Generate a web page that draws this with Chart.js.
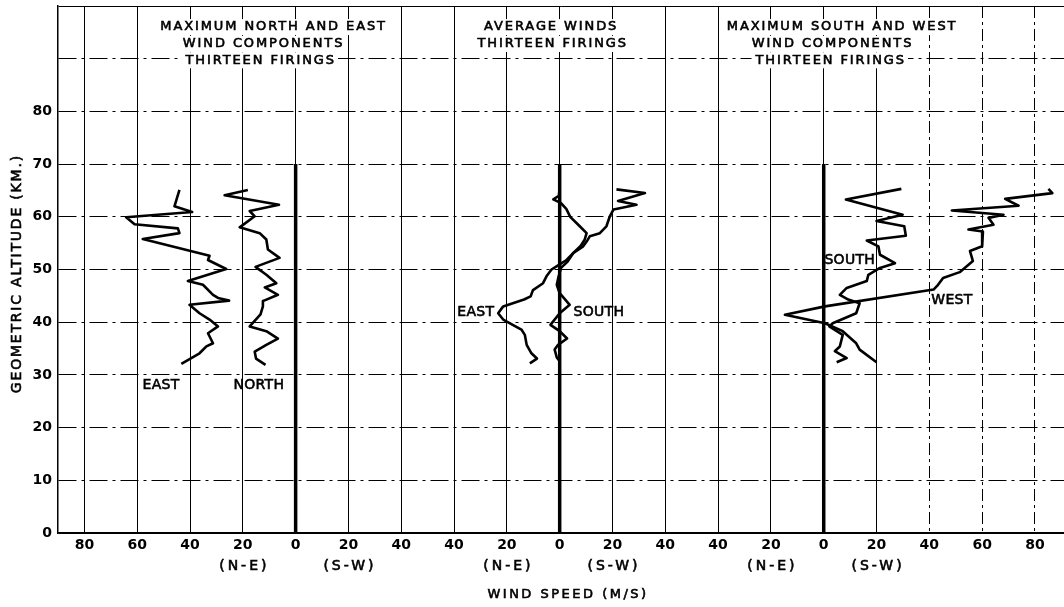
<!DOCTYPE html>
<html><head><meta charset="utf-8">
<script src="https://cdn.jsdelivr.net/npm/chart.js@4/dist/chart.umd.min.js"></script>
<style>html,body{margin:0;padding:0;background:#fff}#wrap{width:1064px;height:607px;position:relative}</style>
</head><body><div id="wrap"><canvas id="c" width="1064" height="607"></canvas></div>
<script>
// ---- DATA (altitude km, wind component m/s; negative = N-E side, positive = S-W side) ----
const maxEastAlt   = [65.1, 62.0, 60.9, 59.9, 58.6, 57.8, 56.9, 55.8, 52.6, 51.8, 50.1, 47.8, 47.1, 45.2, 44.6, 44.1, 43.3, 41.7, 40.5, 39.2, 37.9, 36.0, 35.4, 34.1, 32.1];
const maxEastSpeed = [-44, -45.9, -39.2, -64.2, -61, -44.6, -44, -57.9, -32.6, -33.2, -26.3, -40.8, -35.1, -31.3, -29.4, -25.2, -40.2, -36.4, -32.6, -29.4, -33.2, -31.3, -33.8, -36.4, -43.3];

const maxNorthAlt   = [65.1, 64.1, 62.3, 61.1, 60.1, 58.0, 56.9, 55.7, 53.8, 52.2, 50.5, 49.0, 47.4, 46.6, 45.2, 44.0, 43.0, 41.5, 39.2, 38.3, 36.9, 35.7, 34.4, 33.1, 31.9];
const maxNorthSpeed = [-18.1, -26.9, -6.3, -17.4, -15.5, -21.2, -13.6, -11.1, -10.5, -6.1, -15.2, -11.1, -7.3, -11.7, -6.7, -12.4, -12.4, -13.3, -17.4, -11.1, -6.7, -11.1, -15.5, -15.0, -11.4];

const avgEastAlt   = [65.2, 64.5, 63.0, 62.3, 61.4, 60.1, 58.2, 56.9, 56.3, 55.3, 54.4, 53.1, 51.8, 50.6, 50.0, 48.7, 47.4, 46.1, 44.9, 44.3, 43.0, 41.7, 40.5, 38.6, 37.6, 35.7, 34.1, 33.1, 32.2];
const avgEastSpeed = [21.5, 32.3, 22.1, 29.1, 20.4, 19.0, 17.7, 15.2, 11.4, 10.2, 8.9, 5.1, 2.6, -1.2, -3.1, -5.0, -6.3, -10.1, -11.0, -13.5, -21.4, -23.3, -21.4, -14.5, -13.2, -12.5, -10.7, -8.6, -11.3];

const avgSouthAlt   = [65.5, 64.0, 63.3, 62.6, 61.5, 60.0, 58.2, 56.9, 55.7, 54.5, 53.1, 51.5, 50.3, 48.5, 47.1, 45.5, 43.3, 41.7, 39.5, 38.3, 36.9, 35.7, 34.8, 33.3, 32.6];
const avgSouthSpeed = [0, -0.3, -2.4, 0.5, 2.5, 4.0, 7.6, 10.2, 9.5, 8.0, 5.1, 3.0, 0.5, -0.5, -1.1, 0, 3.8, 0, -3.5, 0, 2.8, -0.6, -1.9, -1.1, 0];

const maxSouthAlt   = [65.3, 63.3, 60.4, 59.2, 58.2, 56.4, 55.5, 54.4, 52.8, 51.2, 50.3, 49.0, 47.8, 46.5, 45.2, 44.3, 43.6, 41.7, 39.8, 39.2, 37.6, 35.4, 34.5, 33.2, 32.4];
const maxSouthSpeed = [29.4, 8.4, 29.9, 20.0, 30.5, 31.1, 16.3, 20.7, 21.3, 27.0, 21.3, 16.9, 16.3, 8.7, 6.1, 9.3, 13.6, 12.3, 3.4, 2.1, 7.2, 6.1, 4.2, 8.7, 4.9];

const maxWestAlt   = [65.3, 64.5, 63.4, 62.1, 61.2, 60.4, 59.8, 58.5, 57.6, 57.2, 54.4, 53.5, 51.6, 49.5, 48.4, 47.1, 46.2, 43.0, 41.4, 39.8, 38.3, 36.0, 34.8, 32.4];
const maxWestSpeed = [85.1, 86.6, 68.7, 73.8, 48.5, 68.1, 62.4, 64.3, 54.8, 60.3, 60.0, 55.4, 56.5, 51.5, 45.2, 43.3, 41.6, 0.5, -14.7, 0.5, 7.2, 12.3, 13.6, 20.0];

const zeroLineAlt = [0, 70];

const xTickValues = [-80, -60, -40, -20, 0, 20, 40, 60, 80, 100, 120, 140, 160, 180, 200, 220, 240, 260, 280];
const xTickLabels = ['80', '60', '40', '20', '0', '20', '40', '40', '20', '0', '20', '40', '40', '20', '0', '20', '40', '60', '80'];
const yTickValues = [0, 10, 20, 30, 40, 50, 60, 70, 80, 90, 100];
const yTickLabels = ['0', '10', '20', '30', '40', '50', '60', '70', '80', '', ''];

const panelTitles = [
  ['MAXIMUM NORTH AND EAST', 'WIND COMPONENTS', 'THIRTEEN FIRINGS'],
  ['AVERAGE WINDS', 'THIRTEEN FIRINGS'],
  ['MAXIMUM SOUTH AND WEST', 'WIND COMPONENTS', 'THIRTEEN FIRINGS']
];
const curveLabels = ['EAST', 'NORTH', 'EAST', 'SOUTH', 'SOUTH', 'WEST'];
const sideLabels = ['(N-E)', '(S-W)'];
const xTitle = 'WIND SPEED (M/S)';
const yTitle = 'GEOMETRIC ALTITUDE (KM.)';

// ---- LAYOUT (not data) ----
const X_MIN = -90, X_MAX = 291;
const panelOffset = [0, 100, 200];
const titlePos = [
  [[-8.7, 96.0], [-12.5, 92.8], [-13.6, 89.7]],
  [[96.4, 96.0], [97.0, 92.8]],
  [[206.6, 96.0], [203.0, 92.8], [202.3, 89.7]]
];
const curveLabelPos = [[-51, 28.1], [-14, 28.1], [68.2, 41.8], [114.8, 41.8], [209.8, 51.8], [248.5, 44.2]];

function pts(alt, spd, off) { return alt.map((a, i) => ({x: spd[i] + off, y: a})); }

const FONT = '"DejaVu Sans", Verdana, sans-serif';
const curve = (data) => ({data, showLine: true, pointRadius: 0, borderColor: '#000', borderWidth: 2.6, tension: 0, fill: false, borderJoinStyle: 'round'});
const zero = (off) => ({data: zeroLineAlt.map(a => ({x: off, y: a})), showLine: true, pointRadius: 0, borderColor: '#000', borderWidth: 3.5});

function drawText(ctx, text, px, py, size, spacing, bg) {
  ctx.save();
  ctx.font = size + 'px ' + FONT;
  ctx.letterSpacing = spacing + 'px';
  ctx.textAlign = 'center';
  ctx.textBaseline = 'middle';
  const w = ctx.measureText(text).width;
  if (bg) { ctx.fillStyle = '#fff'; ctx.fillRect(px - w / 2 - 3, py - 8, w + 6, 16); }
  ctx.fillStyle = '#000';
  ctx.strokeStyle = '#000';
  ctx.lineWidth = 0.6;
  ctx.fillText(text, px + spacing / 2, py);
  ctx.strokeText(text, px + spacing / 2, py);
  ctx.restore();
}

const textPlugin = {
  id: 'texts',
  afterDraw(chart) {
    const ctx = chart.ctx, xs = chart.scales.x, ys = chart.scales.y, ca = chart.chartArea;
    panelTitles.forEach((lines, p) => lines.forEach((t, i) => {
      drawText(ctx, t, xs.getPixelForValue(titlePos[p][i][0]), ys.getPixelForValue(titlePos[p][i][1]), 13, 1.9, true);
    }));
    curveLabels.forEach((t, i) => {
      drawText(ctx, t, xs.getPixelForValue(curveLabelPos[i][0]), ys.getPixelForValue(curveLabelPos[i][1]), 14, 0.3, false);
    });
    panelOffset.forEach(off => {
      drawText(ctx, sideLabels[0], xs.getPixelForValue(off - 20), ca.bottom + 33, 14, 3, false);
      drawText(ctx, sideLabels[1], xs.getPixelForValue(off + 20), ca.bottom + 33, 14, 3, false);
    });
    drawText(ctx, xTitle, xs.getPixelForValue(102.7), ca.bottom + 62, 13, 2.5, false);
    ctx.save();
    ctx.translate(17, (ca.top + ca.bottom) / 2 + 5);
    ctx.rotate(-Math.PI / 2);
    drawText(ctx, yTitle, 0, 0, 14, 1.8, false);
    ctx.restore();
  }
};

new Chart(document.getElementById('c'), {
  type: 'scatter',
  data: {
    datasets: [
      zero(panelOffset[0]), zero(panelOffset[1]), zero(panelOffset[2]),
      curve(pts(maxEastAlt, maxEastSpeed, panelOffset[0])),
      curve(pts(maxNorthAlt, maxNorthSpeed, panelOffset[0])),
      curve(pts(avgEastAlt, avgEastSpeed, panelOffset[1])),
      curve(pts(avgSouthAlt, avgSouthSpeed, panelOffset[1])),
      curve(pts(maxSouthAlt, maxSouthSpeed, panelOffset[2])),
      curve(pts(maxWestAlt, maxWestSpeed, panelOffset[2]))
    ]
  },
  options: {
    responsive: false,
    animation: false,
    events: [],
    layout: {padding: {top: 6, right: 0, left: 0, bottom: 0}},
    plugins: {legend: {display: false}, tooltip: {enabled: false}},
    scales: {
      x: {
        type: 'linear', min: X_MIN, max: X_MAX,
        afterBuildTicks: s => { s.ticks = xTickValues.concat([X_MAX]).map(v => ({value: v})); },
        afterFit: s => { s.height = 74; s.paddingLeft = 0; s.paddingRight = 0; },
        ticks: {
          color: '#000', padding: 4, maxRotation: 0, autoSkip: false,
          font: {family: FONT, size: 14, weight: 'bold'},
          callback: (v) => { const i = xTickValues.indexOf(v); return i >= 0 ? xTickLabels[i] : ''; }
        },
        grid: {color: '#000', lineWidth: 1, drawTicks: false},
        border: {display: true, color: '#000', width: 1.5,
          dash: c => (c.tick && c.tick.value >= 240) ? [12, 4, 3, 4] : []}
      },
      y: {
        type: 'linear', min: 0, max: 100,
        afterBuildTicks: s => { s.ticks = yTickValues.map(v => ({value: v})); },
        afterFit: s => { s.width = 58; s.paddingTop = 0; s.paddingBottom = 0; },
        ticks: {
          color: '#000', padding: 6,
          font: {family: FONT, size: 14, weight: 'bold'},
          callback: (v) => { const i = yTickValues.indexOf(v); return i >= 0 ? yTickLabels[i] : ''; }
        },
        grid: {color: '#000', lineWidth: 1, drawTicks: false},
        border: {display: true, color: '#000', width: 1.5,
          dash: c => (c.tick && c.tick.value > 0 && c.tick.value < 100) ? [18, 5, 3, 5] : []}
      }
    }
  },
  plugins: [textPlugin]
});
</script>
</body></html>
